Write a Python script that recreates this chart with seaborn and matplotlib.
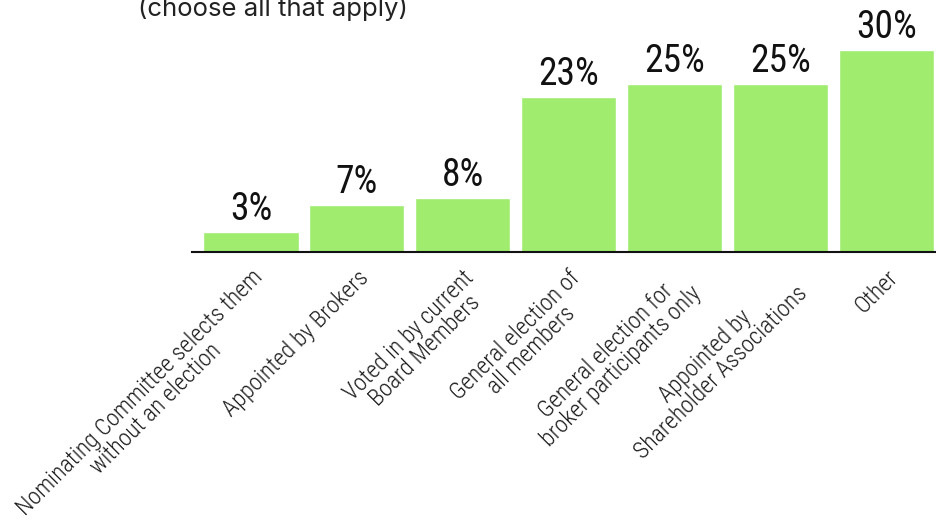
import matplotlib
matplotlib.use("Agg")
import matplotlib.pyplot as plt
from matplotlib import font_manager
from matplotlib.transforms import ScaledTranslation
import seaborn as sns
import pandas as pd

categories = [
    "Nominating Committee selects them\nwithout an election",
    "Appointed by Brokers",
    "Voted in by current\nBoard Members",
    "General election of\nall members",
    "General election for\nbroker participants only",
    "Appointed by\nShareholder Associations",
    "Other",
]
values = [3, 7, 8, 23, 25, 25, 30]
subtitle = "(choose all that apply)"

sns.set_theme(style="white")


def first_family(candidates, max_weight):
    """Return the first installed family with an upright face no heavier than max_weight."""
    for name in candidates:
        for f in font_manager.fontManager.ttflist:
            w = f.weight if isinstance(f.weight, int) else 400
            if f.name == name and f.style == "normal" and w <= max_weight:
                return name, w
    return "DejaVu Sans", 400


light_family, light_w = first_family(
    ["Open Sans Condensed Light", "Open Sans Condensed", "Roboto Condensed Light",
     "Roboto Condensed", "Barlow Condensed Light", "Barlow Semi Condensed Light",
     "Asap Condensed", "Liberation Sans Narrow", "Archivo Narrow"], 300)
regular_family, regular_w = first_family(
    ["Open Sans Condensed", "Roboto Condensed", "Barlow Condensed",
     "Barlow Semi Condensed", "Asap Condensed", "Liberation Sans Narrow",
     "Archivo Narrow"], 400)

plt.rcParams["font.family"] = [regular_family, "DejaVu Sans"]

df = pd.DataFrame({"category": categories, "value": values})

fig = plt.figure(figsize=(9.37, 5.23), dpi=100)
ax = fig.add_axes([192 / 937, 271 / 523, 745 / 937, 242 / 523])

sns.barplot(data=df, x="category", y="value", color="#9fec6f", saturation=1,
            width=0.9, ax=ax)

ax.set_xlim(-0.557, 6.48)
ax.set_ylim(0, 36)

for i, v in enumerate(values):
    ax.text(i, v + 1.8, f"{v}%", ha="center", va="baseline", fontsize=27,
            fontweight=regular_w, color="#111111",
            family=[regular_family, "DejaVu Sans"])

ax.set_yticks([])
ax.set_xlabel("")
ax.set_ylabel("")
for s in ["top", "right", "left"]:
    ax.spines[s].set_visible(False)
ax.spines["bottom"].set_color("#111111")
ax.spines["bottom"].set_linewidth(1.5)

ax.tick_params(axis="x", length=0, pad=10)
ax.set_xticks(range(len(categories)))
ax.set_xticklabels(categories, rotation=45, ha="right", va="top",
                   rotation_mode="anchor", multialignment="center",
                   fontsize=17, fontweight=light_w, color="#1a1a1a",
                   family=[light_family, "DejaVu Sans"], linespacing=0.95)
shift = ScaledTranslation(0, 0, fig.dpi_scale_trans)
for lbl in ax.get_xticklabels():
    lbl.set_transform(lbl.get_transform() + shift)

fig.text(273 / 937, 1 - 16 / 523, subtitle, ha="center", va="baseline",
         fontsize=18.5, color="#222222", family=["Inter", "DejaVu Sans"])

fig.savefig("out.png", dpi=100, facecolor="white")
